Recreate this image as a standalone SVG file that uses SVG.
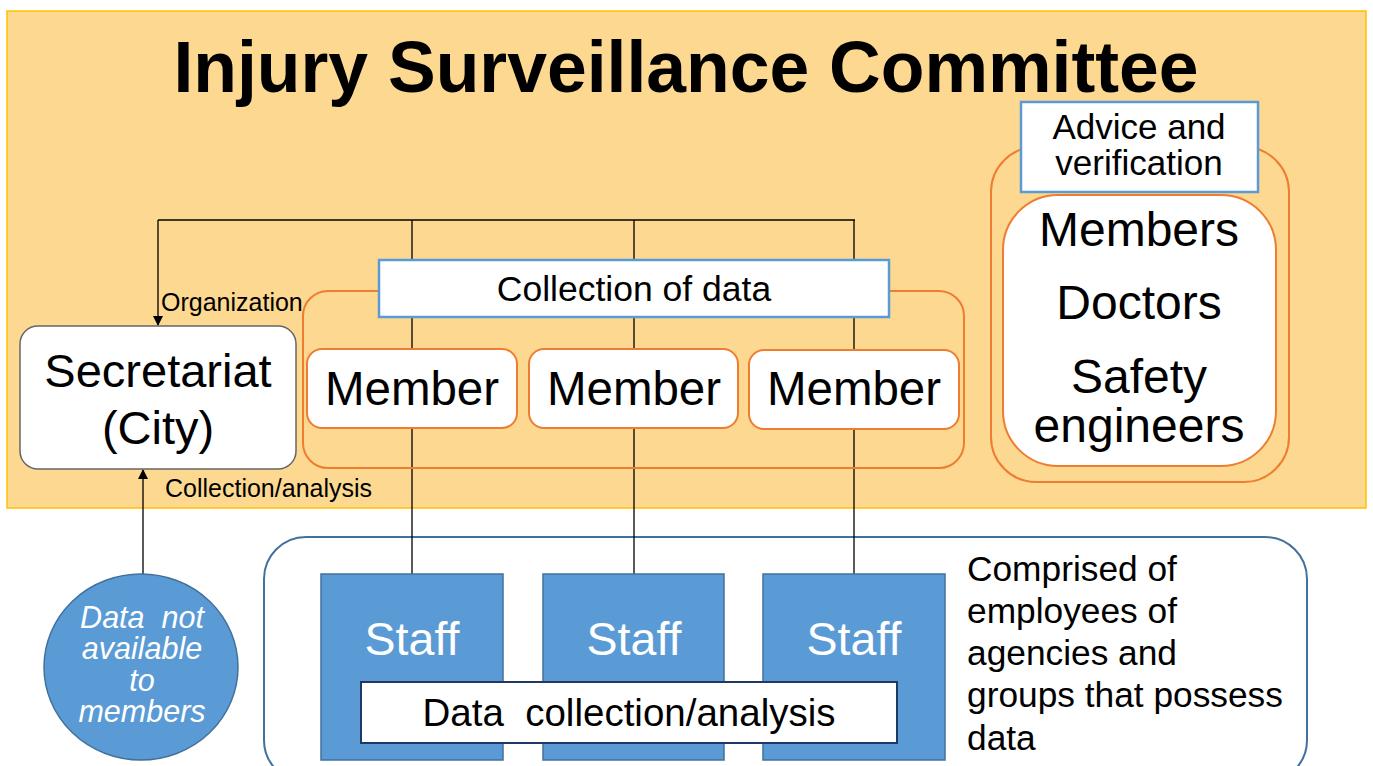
<svg xmlns="http://www.w3.org/2000/svg" width="1373" height="766" viewBox="0 0 1373 766">
<defs>
<marker id="arr" markerWidth="10" markerHeight="10" refX="9" refY="5" orient="auto" markerUnits="userSpaceOnUse"><path d="M0,0 L10,5 L0,10 z" fill="#000"/></marker>
<style>
.t{font-family:"Liberation Sans",Arial,sans-serif;fill:#000;text-anchor:middle}
.s{text-anchor:start}
.w{fill:#fff}
.org{fill:#fff;stroke:#ED7D31;stroke-width:2}
.orgc{fill:none;stroke:#ED7D31;stroke-width:2}
.lbl{fill:#fff;stroke:#5B9BD5;stroke-width:2.5}
.blue{fill:#5B9BD5;stroke:#41719C;stroke-width:1.5}
.ln{stroke:#000;stroke-width:1.3;fill:none}
</style>
</defs>
<rect x="7" y="11" width="1359" height="497" fill="#FDD890" stroke="#FFC000" stroke-width="1.5"/>
<text class="t" x="686" y="92" font-size="71.5" font-weight="bold">Injury Surveillance Committee</text>

<g id="bottom-panel"><rect x="264" y="537" width="1043" height="245" rx="42" fill="#fff" stroke="#41719C" stroke-width="2"/></g>

<g id="connectors">
<line class="ln" x1="158" y1="220" x2="855" y2="220"/>
<line class="ln" x1="158" y1="220" x2="158" y2="325" marker-end="url(#arr)"/>
<line class="ln" x1="143" y1="576" x2="143" y2="470" marker-end="url(#arr)"/>
<line class="ln" x1="412" y1="220" x2="412" y2="574"/>
<line class="ln" x1="634" y1="220" x2="634" y2="574"/>
<line class="ln" x1="854" y1="220" x2="854" y2="574"/>
<text class="t s" x="161" y="311" font-size="25">Organization</text>
<text class="t s" x="165" y="497" font-size="25">Collection/analysis</text>
</g>

<g id="secretariat">
<rect x="20" y="326" width="276" height="143" rx="18" fill="#fff" stroke="#666" stroke-width="1.5"/>
<text class="t" x="158" y="387" font-size="47">Secretariat</text>
<text class="t" x="158" y="444" font-size="47">(City)</text>
</g>

<g id="collection-group">
<rect class="orgc" x="303" y="291" width="661" height="177" rx="25"/>
</g>
<g id="member1"><rect class="org" x="307" y="349" width="210" height="79" rx="15"/><text class="t" x="412" y="405" font-size="47.5">Member</text></g>
<g id="member2"><rect class="org" x="529" y="349" width="209" height="79" rx="15"/><text class="t" x="634" y="405" font-size="47.5">Member</text></g>
<g id="member3"><rect class="org" x="749" y="350" width="210" height="79" rx="15"/><text class="t" x="854" y="405" font-size="47.5">Member</text></g>
<g id="collection-label"><rect class="lbl" x="379" y="260" width="510" height="57"/><text class="t" x="634" y="301" font-size="35.5">Collection of data</text></g>

<g id="advice-group">
<rect class="orgc" x="991" y="147" width="298" height="335" rx="45"/>
<rect class="org" x="1003" y="195" width="273" height="271" rx="55"/>
<text class="t" x="1139" y="246" font-size="48">Members</text>
<text class="t" x="1139" y="319" font-size="48">Doctors</text>
<text class="t" x="1139" y="393" font-size="48">Safety</text>
<text class="t" x="1139" y="442" font-size="48">engineers</text>
</g>
<g id="advice-label"><rect class="lbl" x="1021" y="102" width="237" height="90"/><text class="t" x="1139" y="139" font-size="35">Advice and</text><text class="t" x="1139" y="175" font-size="35">verification</text></g>

<g id="data-not-available">
<ellipse class="blue" cx="141" cy="667" rx="97" ry="93"/>
<text class="t w" x="142" y="628" font-size="30.5" font-style="italic" xml:space="preserve">Data  not</text>
<text class="t w" x="142" y="659" font-size="30.5" font-style="italic">available</text>
<text class="t w" x="142" y="691" font-size="30.5" font-style="italic">to</text>
<text class="t w" x="142" y="722" font-size="30.5" font-style="italic">members</text>
</g>

<g id="staff1"><rect class="blue" x="321" y="574" width="182" height="186"/><text class="t w" x="412" y="655" font-size="46.5">Staff</text></g>
<g id="staff2"><rect class="blue" x="543" y="574" width="181" height="186"/><text class="t w" x="634" y="655" font-size="46.5">Staff</text></g>
<g id="staff3"><rect class="blue" x="763" y="574" width="182" height="186"/><text class="t w" x="854" y="655" font-size="46.5">Staff</text></g>
<g id="data-collection"><rect x="361" y="682" width="536" height="61" fill="#fff" stroke="#203864" stroke-width="2"/><text class="t" x="629" y="726" font-size="38.5" xml:space="preserve">Data  collection/analysis</text></g>

<g id="comprised-text">
<text class="t s" x="967" y="581" font-size="35.3">Comprised of</text>
<text class="t s" x="967" y="623" font-size="35.3">employees of</text>
<text class="t s" x="967" y="665" font-size="35.3">agencies and</text>
<text class="t s" x="967" y="707" font-size="35.3">groups that possess</text>
<text class="t s" x="967" y="750" font-size="35.3">data</text>
</g>
</svg>
